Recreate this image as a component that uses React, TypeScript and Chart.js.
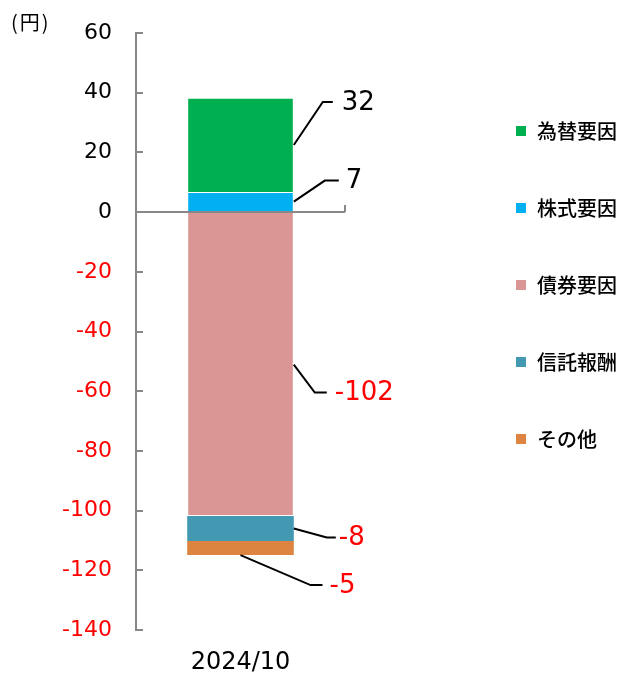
import React, { useEffect, useRef } from "react";
import { Chart, registerables } from "chart.js";

Chart.register(...registerables);

const categories = ["2024/10"];
const seriesNames = ["為替要因", "株式要因", "債券要因", "信託報酬", "その他"];
const fxValues = [31.6];
const stockValues = [6.7];
const bondValues = [-101.8];
const feeValues = [-8.4];
const otherValues = [-4.7];
const yTickMin = -140;
const yTickMax = 60;
const yTickStep = 20;
const unitLabel = "(円)";

const seriesColors = ["#00B050", "#00B0F0", "#D99694", "#4399B1", "#DD8440"];
const seriesBorders = [1, 1, 1, 0, 0];

const leaderStyles = [
  { anchor: "right", ex: 29, ey: -43, tail: 10, gap: 9 },
  { anchor: "right", ex: 31, ey: -21, tail: 14, gap: 7 },
  { anchor: "right", ex: 21, ey: 28, tail: 12, gap: 8 },
  { anchor: "right", ex: 33, ey: 9, tail: 9, gap: 3 },
  { anchor: "bottom", ex: 70, ey: 30, tail: 12, gap: 7 },
];

const NUM_FONT = '"DejaVu Sans", Verdana, sans-serif';
const JP_FONT = '"Noto Sans CJK JP", "DejaVu Sans", sans-serif';

const decorPlugin = {
  id: "decor",
  afterDraw(chart: any) {
    const ctx = chart.ctx;
    const area = chart.chartArea;
    const yScale = chart.scales.y;
    ctx.save();
    ctx.strokeStyle = "#888888";
    ctx.lineWidth = 2;
    yScale.ticks.forEach((t: any) => {
      const py = Math.round(yScale.getPixelForValue(t.value));
      ctx.beginPath();
      ctx.moveTo(area.left, py);
      ctx.lineTo(area.left + 7, py);
      ctx.stroke();
    });
    const zy = yScale.getPixelForValue(0);
    ctx.beginPath();
    ctx.moveTo(area.right, zy);
    ctx.lineTo(area.right, zy - 7);
    ctx.stroke();

    ctx.fillStyle = "#000";
    ctx.font = `20px ${JP_FONT}`;
    ctx.textBaseline = "middle";
    ctx.textAlign = "left";
    try {
      (ctx as any).letterSpacing = "2px";
    } catch (e) {}
    ctx.fillText(unitLabel, 11, 22);
    try {
      (ctx as any).letterSpacing = "0px";
    } catch (e) {}

    chart.data.datasets.forEach((ds: any, i: number) => {
      const meta = chart.getDatasetMeta(i);
      const el: any = meta.data[0];
      if (!el) return;
      const v = ds.data[0];
      const st = leaderStyles[ds.seriesIndex];
      const right = el.x + el.width / 2;
      const top = Math.min(el.y, el.base);
      const bottom = Math.max(el.y, el.base);
      let sx: number, sy: number, exx: number, eyy: number;
      if (st.anchor === "bottom") {
        sx = el.x;
        sy = bottom;
        exx = el.x + st.ex;
        eyy = bottom + st.ey;
      } else {
        sx = right;
        sy = (top + bottom) / 2;
        exx = right + st.ex;
        eyy = sy + st.ey;
      }
      ctx.strokeStyle = "#000";
      ctx.lineWidth = 2;
      ctx.beginPath();
      ctx.moveTo(sx, sy);
      ctx.lineTo(exx, eyy);
      ctx.lineTo(exx + st.tail, eyy);
      ctx.stroke();
      ctx.font = `26px ${NUM_FONT}`;
      ctx.fillStyle = v < 0 ? "#FF0000" : "#000000";
      ctx.textAlign = "left";
      ctx.textBaseline = "middle";
      ctx.fillText(String(Math.round(v)), exx + st.tail + st.gap, eyy + 1);
    });

    const lx = chart.width - 106;
    const ly0 = 131;
    const lstep = 77;
    const sorted = [...chart.data.datasets].sort((a: any, b: any) => a.seriesIndex - b.seriesIndex);
    sorted.forEach((ds: any, i: number) => {
      const cy = ly0 + i * lstep;
      ctx.fillStyle = ds.backgroundColor;
      ctx.fillRect(lx, cy - 5, 10, 10);
      ctx.fillStyle = "#000";
      ctx.font = `500 20px ${JP_FONT}`;
      ctx.textAlign = "left";
      ctx.textBaseline = "middle";
      ctx.fillText(ds.label, lx + 21, cy);
    });
    ctx.restore();
  },
};

export default function App() {
  const ref = useRef<HTMLCanvasElement | null>(null);
  useEffect(() => {
    if (!ref.current) return;
    const allValues = [fxValues, stockValues, bondValues, feeValues, otherValues];
    const order = [1, 0, 2, 3, 4];
    const datasets = order.map((i) => ({
      label: seriesNames[i],
      seriesIndex: i,
      data: allValues[i],
      backgroundColor: seriesColors[i],
      borderColor: "#FFFFFF",
      borderWidth: seriesBorders[i],
      barPercentage: 0.51,
      categoryPercentage: 1,
    }));
    const chart = new Chart(ref.current, {
      type: "bar",
      data: { labels: categories, datasets },
      options: {
        responsive: false,
        animation: false,
        devicePixelRatio: 1,
        layout: { padding: { top: 33, right: 277, left: 0, bottom: 0 } },
        plugins: { legend: { display: false }, tooltip: { enabled: false } },
        scales: {
          x: {
            stacked: true,
            grid: { display: false, drawTicks: false },
            border: { display: false },
            ticks: { color: "#000", font: { family: NUM_FONT, size: 24 }, padding: 18 },
            afterFit: (s: any) => {
              s.height = 44;
            },
          },
          y: {
            stacked: true,
            min: yTickMin,
            max: yTickMax,
            ticks: {
              stepSize: yTickStep,
              padding: 24,
              font: { family: NUM_FONT, size: 22 },
              color: (c: any) => (c.tick && c.tick.value < 0 ? "#FF0000" : "#000000"),
            },
            grid: {
              drawTicks: false,
              color: (c: any) => (c.tick && c.tick.value === 0 ? "#888888" : "rgba(0,0,0,0)"),
              lineWidth: 2,
            },
            border: { display: true, color: "#888888", width: 2 },
            afterFit: (s: any) => {
              s.width = 136;
              s.paddingTop = 0;
              s.paddingBottom = 0;
            },
          },
        },
      },
      plugins: [decorPlugin],
    } as any);
    return () => chart.destroy();
  }, []);
  return (
    <div style={{ position: "absolute", left: 0, top: 0, width: 622, height: 674, background: "#fff" }}>
      <canvas ref={ref} width={622} height={674} />
    </div>
  );
}
